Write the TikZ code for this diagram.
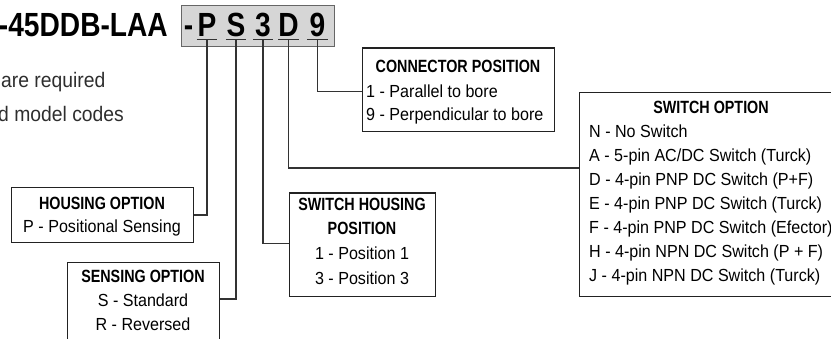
\documentclass[tikz,border=0pt]{standalone}
\usepackage{fontspec}
\setmainfont{Liberation Sans}
\newfontfamily\creg{Liberation Sans}[FakeStretch=0.92]
\newfontfamily\cbld{Liberation Sans}[FakeStretch=0.81]
\newfontfamily\cbig{Liberation Sans}[FakeStretch=0.84]
\definecolor{boxc}{HTML}{222222}
\definecolor{linec}{HTML}{333333}
\definecolor{codefill}{HTML}{D6D6D6}
\definecolor{codeedge}{HTML}{666666}
\definecolor{sidetext}{HTML}{2E2E2E}
\tikzset{
  box/.style={draw=boxc, line width=1.3pt, inner sep=0pt, anchor=north west},
  conn/.style={draw=linec, line width=1.3pt},
  uline/.style={draw=linec, line width=1.3pt},
  ttl/.style={font=\cbld\bfseries\fontsize{17.7}{17.7}\selectfont, anchor=base, inner sep=0pt},
  itm/.style={font=\creg\fontsize{17.5}{17.5}\selectfont, anchor=base west, inner sep=0pt},
  itc/.style={itm, anchor=base},
  big/.style={font=\cbig\bfseries\fontsize{33.5}{33.5}\selectfont, inner sep=0pt},
  letter/.style={big, anchor=base, minimum width=20pt, inner xsep=0pt, inner ysep=2.5pt, text depth=0pt},
  side/.style={font=\creg\fontsize{21}{21}\selectfont, text=sidetext, anchor=base west, inner sep=0pt}
}
\begin{document}
\begin{tikzpicture}[x=1pt,y=-1pt]
\useasboundingbox (0,0) rectangle (831,339);
\clip (0,0) rectangle (831,339);

% model code
\node[big, anchor=base east] (model) at (168,37) {-45DDB-LAA};
\node[draw=codeedge, fill=codefill, line width=1.2pt, anchor=north west,
      minimum width=153pt, minimum height=41pt, inner sep=0pt] (code) at (181,5) {};
\node[big, anchor=base] (dash) at (188.5,37) {-};
\node[letter] (uP) at (207,37) {P};
\node[letter] (uS) at (236,37) {S};
\node[letter] (u3) at (263,37) {3};
\node[letter] (uD) at (288.5,37) {D};
\node[letter] (u9) at (317.5,37) {9};
\foreach \n in {uP,uS,u3,uD,u9} \draw[uline] (\n.south west) -- (\n.south east);

% side text
\node[side] (req) at (1,88) {are required};
\node[side] (codes) at (-2,122) {d model codes};

% boxes
\node[box, minimum width=182pt, minimum height=55pt] (housing) at (11,187) {};
\node[box, minimum width=152pt, minimum height=100pt] (sensing) at (67,262) {};
\node[box, minimum width=146pt, minimum height=103.5pt] (swhous) at (289,192.5) {};
\node[box, minimum width=192pt, minimum height=83.5pt] (connpos) at (362,47.3) {};
\node[box, minimum width=270pt, minimum height=204pt] (swopt) at (579,92) {};

% connectors
\draw[conn] (uP.south) |- (housing.east);
\draw[conn] (uS.south) |- ([yshift=-37pt]sensing.north east);
\draw[conn] (u3.south) |- ([yshift=1.3pt]swhous.west);
\draw[conn] (uD.south) |- ([yshift=-76pt]swopt.north west);
\draw[conn] (u9.south) |- ([yshift=-44.5pt]connpos.north west);

% housing option
\node[ttl] (hT) at (102,210) {HOUSING OPTION};
\node[itc] (h1) at (102,233) {P - Positional Sensing};

% sensing option
\node[ttl] (sT) at (143,283) {SENSING OPTION};
\node[itc] (s1) at (143,307) {S - Standard};
\node[itc] (s2) at (143,331) {R - Reversed};

% switch housing position
\node[ttl] (shT1) at (362,211) {SWITCH HOUSING};
\node[ttl] (shT2) at (362,235) {POSITION};
\node[itc] (sh1) at (362,260) {1 - Position 1};
\node[itc] (sh2) at (362,285) {3 - Position 3};

% connector position
\node[ttl] (cT) at (458,73) {CONNECTOR POSITION};
\node[itm] (c1) at (366,97.5) {1 - Parallel to bore};
\node[itm] (c2) at (366,121) {9 - Perpendicular to bore};

% switch option
\node[ttl] (oT) at (711,114) {SWITCH OPTION};
\node[itm] (o1) at (589,138) {N - No Switch};
\node[itm] (o2) at (589,162) {A - 5-pin AC/DC Switch (Turck)};
\node[itm] (o3) at (589,186) {D - 4-pin PNP DC Switch (P+F)};
\node[itm] (o4) at (589,210) {E - 4-pin PNP DC Switch (Turck)};
\node[itm] (o5) at (589,234) {F - 4-pin PNP DC Switch (Efector)};
\node[itm] (o6) at (589,258) {H - 4-pin NPN DC Switch (P + F)};
\node[itm] (o7) at (589,282) {J - 4-pin NPN DC Switch (Turck)};
\end{tikzpicture}
\end{document}
